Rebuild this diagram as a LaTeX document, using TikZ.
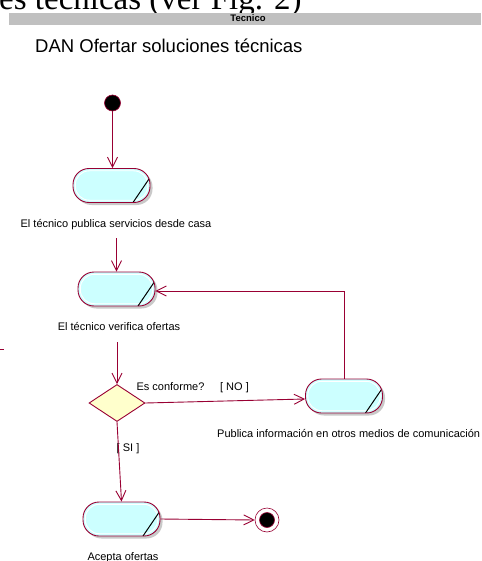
\documentclass[tikz,border=0pt]{standalone}
\usepackage{fontspec}
\setmainfont{Liberation Sans}
\newfontfamily\myserif{Liberation Serif}
\usetikzlibrary{shapes.geometric,arrows.meta,shadows}
\definecolor{umlred}{RGB}{153,0,51}
\definecolor{actfill}{RGB}{204,255,255}
\definecolor{decfill}{RGB}{255,255,204}
\definecolor{band}{RGB}{192,192,192}
\begin{document}
\begin{tikzpicture}[x=1pt,y=-1pt,
  act/.style={rectangle, rounded corners=16pt, draw=umlred, line width=0.9pt, fill=actfill,
    minimum width=77pt, minimum height=34pt, inner sep=0pt,
    drop shadow={shadow xshift=2.5pt, shadow yshift=-2.5pt, fill=black!35, opacity=.6},
    path picture={
      \draw[white, line width=0.9pt, rounded corners=14pt]
        ([shift={(2.3pt,-2.3pt)}]path picture bounding box.north west) rectangle
        ([shift={(-2.3pt,2.3pt)}]path picture bounding box.south east);
      \draw[black, line width=1pt]
        ([xshift=-17pt]path picture bounding box.south east) --
        ([yshift=-9pt]path picture bounding box.north east);}},
  lab/.style={font=\fontsize{11}{13}\selectfont, inner sep=0pt, anchor=base},
  arr/.style={draw=umlred, line width=0.9pt, -{Straight Barb[length=10pt,width=10pt]}},
]
\useasboundingbox (0,0) rectangle (481,561);
\clip (0,0) rectangle (481,561);
\fill[white] (0,0) rectangle (481,561);

% clipped heading of the page
\node[anchor=base west, inner sep=0pt, font=\myserif\fontsize{33}{36}\selectfont] (pagehead) at (-1,10) {es técnicas (ver Fig. 2)};

% swimlane band
\fill[band] (9,13) rectangle (481,25.5);
\node[lab, font=\bfseries\fontsize{9.5}{11}\selectfont] (tec) at (248,22) {Tecnico};

\node[anchor=base west, inner sep=0pt, font=\fontsize{18.5}{22}\selectfont] (title) at (35,53) {DAN Ofertar soluciones técnicas};

% left edge fragments
\coordinate (fragA) at (0,349);
\coordinate (fragB) at (4,349);
\draw[umlred, line width=0.9pt] (fragA) -- (fragB);
\node[lab, text=black!70] (frago) at (-2.5,420) {o};

% nodes
\node[circle, fill=black, draw=umlred, line width=0.6pt, minimum size=16pt, inner sep=0pt] (ini) at (112.5,103) {};

\node[act] (a1) at (111.5,185.5) {};
\node[lab] (l1) at (116,227) {El técnico publica servicios desde casa};

\node[act] (a2) at (116.5,289) {};
\node[lab] (l2) at (119,330) {El técnico verifica ofertas};

\node[diamond, draw=umlred, fill=decfill, line width=0.9pt, minimum width=56pt, minimum height=37pt, inner sep=0pt] (d) at (117,403) {};
\node[lab] (conf) at (170.5,390) {Es conforme?};
\node[lab] (no) at (234.5,390) {[ NO ]};
\node[lab] (si) at (128,451) {[ SI ]};

\node[act] (a3) at (344,396) {};
\node[lab, anchor=base west] (l3) at (217,437) {Publica información en otros medios de comunicación};

\node[act] (a4) at (121.5,519) {};
\node[lab] (l4) at (123,560) {Acepta ofertas};

\node[circle, draw=umlred, line width=0.6pt, fill=white, minimum size=24pt, inner sep=0pt,
  path picture={\filldraw[fill=black, draw=umlred, line width=0.6pt] (path picture bounding box.center) circle (7.5pt);}] (fin) at (267,520) {};

% connectors
\coordinate (s1) at ([yshift=-11pt]l1.base);
\coordinate (s2) at ([yshift=-12pt]l2.base);
\draw[arr] (ini.south) -- (ini.south |- a1.north);
\draw[arr] (s1 -| a2.north) -- (a2.north);
\draw[arr] (s2 -| d.north) -- (d.north);
\draw[arr] (d.east) -- ([yshift=-3pt]a3.west);
\draw[arr] (a3.north) |- ([yshift=-2pt]a2.east);
\draw[arr] (d.south) -- (a4.north);
\draw[arr] (a4.east) -- (fin.west);
\end{tikzpicture}
\end{document}
